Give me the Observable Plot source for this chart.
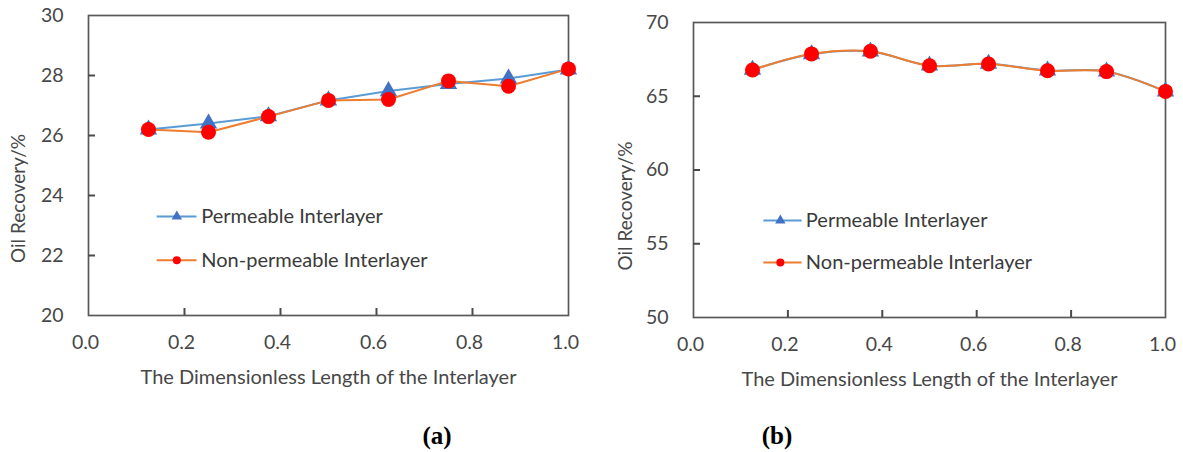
<!DOCTYPE html>
<html><head><meta charset="utf-8">
<script src="https://cdn.jsdelivr.net/npm/d3@7"></script>
<script src="https://cdn.jsdelivr.net/npm/@observablehq/plot@0.6"></script>
<style>
body{margin:0;background:#fff;}
#wrap{position:relative;width:1183px;height:452px;overflow:hidden;background:#fff;}
.panel{position:absolute;top:0;}
.tag{position:absolute;font-family:"Liberation Serif","Times New Roman",serif;font-weight:bold;font-size:25px;color:#000;transform:translate(-50%,-50%);line-height:1;}
</style></head><body><div id="wrap"></div>
<script>
// ---- data ----
const xValues = [0.125, 0.25, 0.375, 0.5, 0.625, 0.75, 0.875, 1.0];
const seriesNames = ["Permeable Interlayer", "Non-permeable Interlayer"];
const aPermeable    = [26.2, 26.4, 26.64, 27.17, 27.48, 27.72, 27.9, 28.2];
const aNonPermeable = [26.2, 26.11, 26.63, 27.17, 27.2, 27.82, 27.64, 28.22];
const bPermeable    = [66.8, 67.85, 68.03, 67.08, 67.2, 66.75, 66.68, 65.33];
const bNonPermeable = [66.78, 67.87, 68.05, 67.07, 67.19, 66.73, 66.67, 65.33];
const xTicks = [0, 0.2, 0.4, 0.6, 0.8, 1.0];
const aYTicks = [20, 22, 24, 26, 28, 30];
const bYTicks = [50, 55, 60, 65, 70];
const xTitle = "The Dimensionless Length of the Interlayer";
const yTitle = "Oil Recovery/%";
const panelTags = ["(a)", "(b)"];

// ---- styles ----
const FONT = "Lato, 'Open Sans', sans-serif";
const AXIS = "#595959";
const TEXT = "#474747";
const permLine = "#5B9BD5", permMark = "#4472C4";
const nonLine = "#ED7D31", nonMark = "#FF0000";
const H = 400;
const TICK_PX = 7;

function rows(ys) { return xValues.map((x, i) => ({x, y: ys[i]})); }

function panel(o) {
  const perm = rows(o.perm), non = rows(o.non);
  const innerY = o.yTicks.slice(1, -1);
  const innerX = xTicks.slice(1, -1);
  const legend = seriesNames.map((name, i) => ({name, y: o.legendY[i], line: i ? nonLine : permLine, mark: i ? nonMark : permMark, symbol: i ? "circle" : "triangle", r: i ? 7 : 5.5}));
  return Plot.plot({
    width: o.width, height: H,
    marginLeft: o.ml, marginRight: o.mr, marginTop: o.mt, marginBottom: o.mb,
    style: {fontFamily: FONT, fontSize: "19px", color: TEXT, background: "transparent"},
    x: {domain: [0, 1]},
    y: {domain: o.yDomain},
    marks: [
      Plot.frame({stroke: AXIS, fill: "none", strokeWidth: 1.7}),
      // inward tick marks: native axis ticks shifted inside the frame
      Plot.axisY(innerY, {anchor: "left", tickSize: TICK_PX, dx: TICK_PX, tickFormat: () => "", label: null, stroke: "#4a4a4a", strokeWidth: 2}),
      Plot.axisX(innerX, {anchor: "bottom", tickSize: TICK_PX, dy: -TICK_PX, tickFormat: () => "", label: null, stroke: "#4a4a4a", strokeWidth: 2}),
      // tick labels
      Plot.axisY(o.yTicks, {tickSize: 0, tickPadding: 25, label: null, fontSize: 19.5}),
      Plot.axisX(xTicks, {tickSize: 0, tickPadding: 20, tickFormat: ".1f", label: null, fontSize: 19.5, dx: -3}),
      Plot.text([xTitle], {frameAnchor: "bottom", dy: 62, fontSize: 20, fill: TEXT, lineAnchor: "middle", textAnchor: "middle"}),
      Plot.text([yTitle], {frameAnchor: "left", dx: o.yTitleDx, dy: o.yTitleDy, rotate: -90, fontSize: 19, fill: TEXT, lineAnchor: "middle", textAnchor: "middle"}),
      Plot.line(perm, {x: "x", y: "y", stroke: permLine, strokeWidth: 2, curve: o.curve}),
      Plot.line(non, {x: "x", y: "y", stroke: nonLine, strokeWidth: 2, curve: o.curve}),
      Plot.dot(perm, {x: "x", y: "y", symbol: "triangle", r: 5.5, fill: permMark, stroke: permMark}),
      Plot.dot(non, {x: "x", y: "y", r: 7.5, fill: nonMark}),
      Plot.link(legend, {x1: () => o.legendX[0], x2: () => o.legendX[2], y1: "y", y2: "y", stroke: "line", strokeWidth: 2}),
      Plot.dot(legend, {x: () => o.legendX[1], y: "y", symbol: "symbol", r: "r", fill: "mark", stroke: "mark"}),
      Plot.text(legend, {x: () => o.legendX[3], y: "y", text: "name", textAnchor: "start", fontSize: 20, fill: "#3a3a3a"})
    ]
  });
}

const wrap = document.getElementById("wrap");
const pa = panel({perm: aPermeable, non: aNonPermeable, yDomain: [20, 30], yTicks: aYTicks, width: 590,
  ml: 88, mr: 22, mt: 15, mb: 85, curve: "linear",
  legendX: [0.142, 0.184, 0.225, 0.235], legendY: [23.3, 21.84], yTitleDx: -70, yTitleDy: 33});
const pb = panel({perm: bPermeable, non: bNonPermeable, yDomain: [50, 70], yTicks: bYTicks, width: 583,
  ml: 93, mr: 18, mt: 22, mb: 83, curve: "catmull-rom",
  legendX: [0.148, 0.184, 0.229, 0.238], legendY: [56.58, 53.73], yTitleDx: -68, yTitleDy: 36});
const da = document.createElement("div"); da.className = "panel"; da.style.left = "0px"; da.appendChild(pa);
const db = document.createElement("div"); db.className = "panel"; db.style.left = "600px"; db.appendChild(pb);
wrap.appendChild(da); wrap.appendChild(db);
const tagPos = [[437, 435], [777, 435]];
panelTags.forEach((t, i) => {
  const d = document.createElement("div"); d.className = "tag"; d.textContent = t;
  d.style.left = tagPos[i][0] + "px"; d.style.top = tagPos[i][1] + "px"; wrap.appendChild(d);
});
</script></body></html>
